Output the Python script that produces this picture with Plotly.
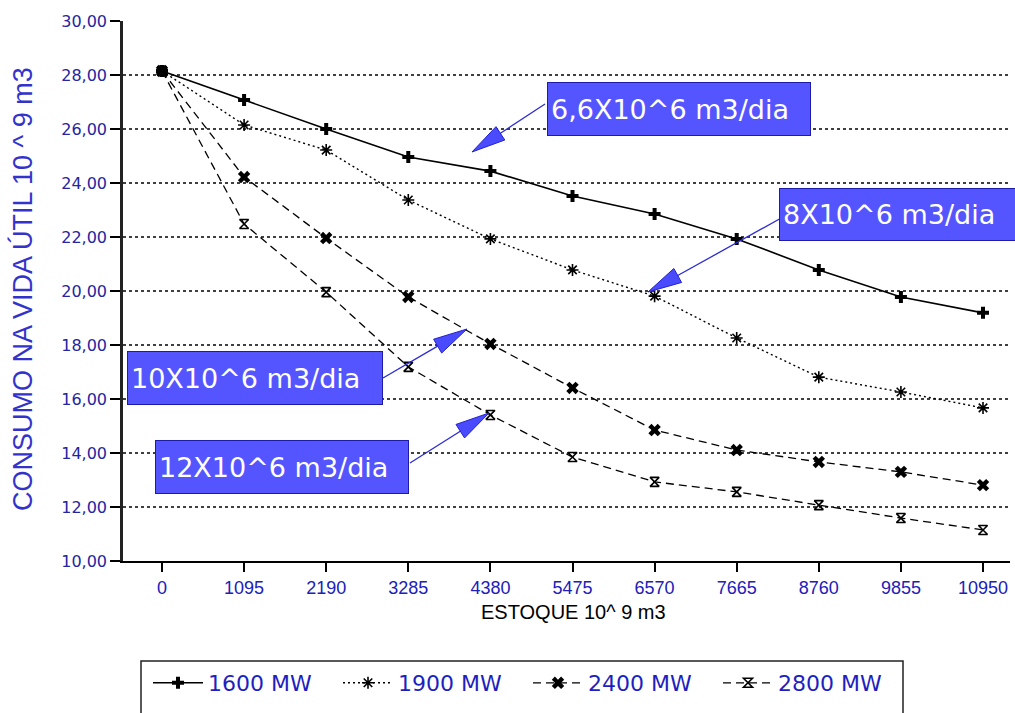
import plotly.graph_objects as go

# ---------------- data ----------------
estoque = [0, 1095, 2190, 3285, 4380, 5475, 6570, 7665, 8760, 9855, 10950]
x_tick_labels = [str(v) for v in estoque]

series_names = ["1600 MW", "1900 MW", "2400 MW", "2800 MW"]
mw_1600 = [28.15, 27.07, 26.00, 24.96, 24.44, 23.52, 22.85, 21.93, 20.78, 19.78, 19.19]
mw_1900 = [28.15, 26.15, 25.22, 23.37, 21.93, 20.78, 19.81, 18.26, 16.81, 16.26, 15.67]
mw_2400 = [28.15, 24.22, 21.96, 19.78, 18.04, 16.41, 14.85, 14.11, 13.67, 13.30, 12.81]
mw_2800 = [28.15, 22.48, 19.96, 17.19, 15.41, 13.85, 12.93, 12.56, 12.07, 11.59, 11.15]

y_ticks = [10, 12, 14, 16, 18, 20, 22, 24, 26, 28, 30]
grid_values = [12, 14, 16, 18, 20, 22, 24, 26, 28]

annotation_texts = ["6,6X10^6 m3/dia", "8X10^6 m3/dia", "10X10^6 m3/dia", "12X10^6 m3/dia"]

# ---------------- layout geometry (pixels) ----------------
W, H = 1015, 713
PL, PR, PT, PB = 123, 1010, 21, 561
X_RANGE = [-520, 11310]
Y_RANGE = [10, 30]


def px(xp):
    return (xp - PL) / (PR - PL)


def py(yp):
    return (PB - yp) / (PB - PT)


fig = go.Figure()

styles = [
    dict(dash="solid", symbol="cross", size=10, width=1.6),
    dict(dash="2px,3px", symbol="asterisk-open", size=10, width=1.4),
    dict(dash="8px,5px", symbol="x", size=11, width=1.3),
    dict(dash="8px,5px", symbol="hourglass-open", size=9, width=1.3),
]
all_series = [mw_1600, mw_1900, mw_2400, mw_2800]
for name, vals, st in zip(series_names, all_series, styles):
    mk = dict(symbol=st["symbol"], size=st["size"], color="black")
    if st["symbol"].endswith("open"):
        mk["line"] = dict(color="black", width=1.6)
    fig.add_trace(go.Scatter(
        x=estoque, y=vals, name=name, mode="lines+markers",
        line=dict(color="black", width=st["width"], dash=st["dash"]),
        marker=mk,
    ))

shapes = []
# horizontal dotted gridlines (none at the top value)
for g in grid_values:
    shapes.append(dict(type="line", xref="paper", yref="y", x0=0, x1=1, y0=g, y1=g,
                       line=dict(color="black", width=1.6, dash="dot"), layer="below"))

# legend frame
shapes.append(dict(type="rect", xref="paper", yref="paper",
                   x0=px(141), x1=px(903), y0=py(661), y1=py(725),
                   line=dict(color="#222222", width=1.5), fillcolor="rgba(0,0,0,0)"))

# arrows (tail -> tip) in pixel coords
arrows = [((545, 104), (472, 152)), ((783, 217), (648, 292)),
          ((383, 378), (467, 329)), ((410, 463), (489, 413))]
ALEN, AHW = 34, 8
for (tx, ty), (hx, hy) in arrows:
    dx, dy = tx - hx, ty - hy
    d = (dx * dx + dy * dy) ** 0.5
    ux, uy = dx / d, dy / d
    bx, by = hx + ux * ALEN, hy + uy * ALEN
    nx, ny = -uy, ux
    c1 = (bx + nx * AHW, by + ny * AHW)
    c2 = (bx - nx * AHW, by - ny * AHW)
    shapes.append(dict(type="line", xref="paper", yref="paper",
                       x0=px(tx), y0=py(ty), x1=px(bx), y1=py(by),
                       line=dict(color="#2a2ad8", width=1.3)))
    path = "M {:.5f},{:.5f} L {:.5f},{:.5f} L {:.5f},{:.5f} Z".format(
        px(hx), py(hy), px(c1[0]), py(c1[1]), px(c2[0]), py(c2[1]))
    shapes.append(dict(type="path", xref="paper", yref="paper", path=path,
                       fillcolor="#4a4aff", line=dict(color="#2222cc", width=1)))

annotations = []
boxes = [(547, 82, 811, 136), (779, 188, 1022, 241), (127, 351, 383, 405), (155, 440, 409, 494)]
BW, PAD = 1, 3
for txt, (x0, y0, x1, y1) in zip(annotation_texts, boxes):
    annotations.append(dict(
        text=txt, xref="paper", yref="paper", x=px(x0), y=py(y0),
        xanchor="left", yanchor="top", showarrow=False,
        width=(x1 - x0) - 2 * (BW + PAD), height=(y1 - y0) - 2 * (BW + PAD),
        align="left", valign="middle",
        bgcolor="#5555ff", bordercolor="#1c1ca8", borderwidth=BW, borderpad=PAD,
        font=dict(family="DejaVu Sans", size=27, color="white"),
    ))

# axis titles
annotations.append(dict(
    text="CONSUMO NA VIDA ÚTIL 10 ^ 9 m3", xref="paper", yref="paper",
    x=px(22), y=py(289), xanchor="center", yanchor="middle", textangle=-90,
    showarrow=False, font=dict(family="Liberation Sans", size=27, color="#3333cc"),
))
annotations.append(dict(
    text="ESTOQUE 10^ 9 m3", xref="paper", yref="paper",
    x=px(573), y=py(612), xanchor="center", yanchor="middle",
    showarrow=False, font=dict(family="Liberation Sans", size=20, color="black"),
))

fig.update_layout(
    width=W, height=H,
    margin=dict(l=PL, r=W - PR, t=PT, b=H - PB, pad=0),
    paper_bgcolor="white", plot_bgcolor="white",
    separators=",.",
    showlegend=True,
    legend=dict(orientation="h", x=px(148), y=py(662), xanchor="left", yanchor="top",
                font=dict(family="DejaVu Sans", size=22, color="#1f1fc0"),
                bgcolor="rgba(0,0,0,0)", borderwidth=0,
                itemwidth=50, entrywidth=125, entrywidthmode="pixels",
                traceorder="normal"),
    shapes=shapes,
    annotations=annotations,
    xaxis=dict(range=X_RANGE, tickmode="array", tickvals=estoque, ticktext=x_tick_labels,
               showgrid=False, zeroline=False, showline=True, linecolor="black", linewidth=2,
               ticks="outside", ticklen=9, tickwidth=1.5, tickcolor="black",
               tickfont=dict(family="Liberation Sans", size=18, color="#2020b8")),
    yaxis=dict(range=Y_RANGE, tickmode="array", tickvals=y_ticks, tickformat=".2f",
               showgrid=False, zeroline=False, showline=True, linecolor="#222222", linewidth=2.5,
               ticks="outside", ticklen=10, tickwidth=1.5, tickcolor="black",
               tickfont=dict(family="DejaVu Sans", size=16, color="#25259f")),
)

fig.write_html(
    "out.html",
    config={"displayModeBar": False},
    post_script="document.body.style.margin='0';document.body.style.overflow='hidden';"
                "document.documentElement.style.overflow='hidden';",
)
